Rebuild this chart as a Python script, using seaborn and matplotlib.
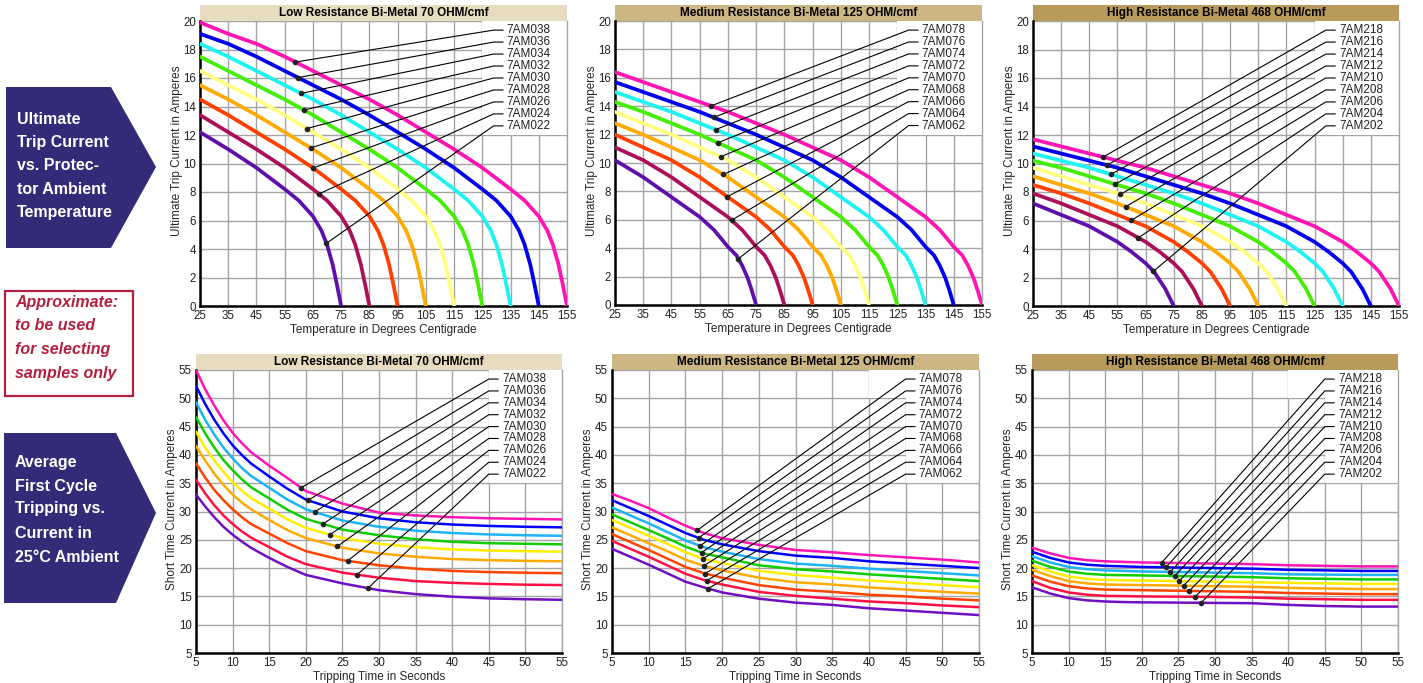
"""Thermal protector curves: ultimate trip current vs. ambient temperature
and first-cycle tripping time vs. current for three bi-metal resistances."""
import numpy as np
import pandas as pd
import seaborn as sns
import matplotlib
matplotlib.use("Agg")
import matplotlib.pyplot as plt
from matplotlib.patches import Polygon, Rectangle

sns.set_style("white")
plt.rcParams["font.family"] = ["Liberation Sans", "DejaVu Sans"]

W, H = 1423, 683

# ---------------- data (curves listed top label -> bottom label) ----------------
low_parts = ["7AM038", "7AM036", "7AM034", "7AM032", "7AM030", "7AM028", "7AM026", "7AM024", "7AM022"]
med_parts = ["7AM078", "7AM076", "7AM074", "7AM072", "7AM070", "7AM068", "7AM066", "7AM064", "7AM062"]
high_parts = ["7AM218", "7AM216", "7AM214", "7AM212", "7AM210", "7AM208", "7AM206", "7AM204", "7AM202"]

top_colors = ["#ff14b4", "#0000ee", "#1ef2f2", "#44ee00", "#ffff80",
              "#ffaa00", "#ff4000", "#ac0f5a", "#5e10aa"]
bot_colors = ["#ff14b4", "#0000ff", "#1cb4f2", "#10cc00", "#ffee00",
              "#ffaa00", "#ff4400", "#ff1044", "#7010c0"]

# ambient temperature (deg C) points read for each curve
temps = [
    [25, 35, 45, 55, 65, 75, 85, 95, 105, 115, 125, 135, 140, 145, 148, 150, 152, 153.5, 155],
    [25, 35, 45, 55, 65, 75, 85, 95, 105, 115, 125, 130, 135, 138, 140, 142, 143.5, 145],
    [25, 35, 45, 55, 65, 75, 85, 95, 105, 115, 120, 125, 128, 130, 132, 133.5, 135],
    [25, 35, 45, 55, 65, 75, 85, 95, 105, 110, 115, 118, 120, 122, 123.5, 125],
    [25, 35, 45, 55, 65, 75, 85, 95, 100, 105, 108, 110, 112, 113.5, 115],
    [25, 35, 45, 55, 65, 75, 85, 90, 95, 98, 100, 102, 103.5, 105],
    [25, 35, 45, 55, 65, 75, 80, 85, 88, 90, 92, 93.5, 95],
    [25, 35, 45, 55, 65, 70, 75, 78, 80, 82, 83.5, 85],
    [25, 35, 45, 55, 60, 65, 68, 70, 72, 73.5, 75],
]

low_trip = [
    [19.9, 19.1, 18.4, 17.5, 16.5, 15.5, 14.5, 13.4, 12.2, 11.0, 9.7, 8.2, 7.4, 6.3, 5.3, 4.3, 2.9, 1.5, 0],
    [19.1, 18.4, 17.5, 16.5, 15.5, 14.5, 13.4, 12.2, 11.0, 9.7, 8.2, 7.4, 6.3, 5.3, 4.3, 2.9, 1.5, 0],
    [18.4, 17.5, 16.5, 15.5, 14.5, 13.4, 12.2, 11.0, 9.7, 8.2, 7.4, 6.3, 5.3, 4.3, 2.9, 1.5, 0],
    [17.5, 16.5, 15.5, 14.5, 13.4, 12.2, 11.0, 9.7, 8.2, 7.4, 6.3, 5.3, 4.3, 2.9, 1.5, 0],
    [16.5, 15.5, 14.5, 13.4, 12.2, 11.0, 9.7, 8.2, 7.4, 6.3, 5.3, 4.3, 2.9, 1.5, 0],
    [15.5, 14.5, 13.4, 12.2, 11.0, 9.7, 8.2, 7.4, 6.3, 5.3, 4.3, 2.9, 1.5, 0],
    [14.5, 13.4, 12.2, 11.0, 9.7, 8.2, 7.4, 6.3, 5.3, 4.3, 2.9, 1.5, 0],
    [13.4, 12.2, 11.0, 9.7, 8.2, 7.4, 6.3, 5.3, 4.3, 2.9, 1.5, 0],
    [12.2, 11.0, 9.7, 8.2, 7.4, 6.3, 5.3, 4.3, 2.9, 1.5, 0],
]
med_trip = [
    [16.4, 15.7, 15.0, 14.3, 13.6, 12.8, 12.0, 11.1, 10.2, 9.0, 7.6, 6.2, 5.3, 4.1, 3.5, 2.8, 1.9, 1.0, 0],
    [15.7, 15.0, 14.3, 13.6, 12.8, 12.0, 11.1, 10.2, 9.0, 7.6, 6.2, 5.3, 4.1, 3.5, 2.8, 1.9, 1.0, 0],
    [15.0, 14.3, 13.6, 12.8, 12.0, 11.1, 10.2, 9.0, 7.6, 6.2, 5.3, 4.1, 3.5, 2.8, 1.9, 1.0, 0],
    [14.3, 13.6, 12.8, 12.0, 11.1, 10.2, 9.0, 7.6, 6.2, 5.3, 4.1, 3.5, 2.8, 1.9, 1.0, 0],
    [13.6, 12.8, 12.0, 11.1, 10.2, 9.0, 7.6, 6.2, 5.3, 4.1, 3.5, 2.8, 1.9, 1.0, 0],
    [12.8, 12.0, 11.1, 10.2, 9.0, 7.6, 6.2, 5.3, 4.1, 3.5, 2.8, 1.9, 1.0, 0],
    [12.0, 11.1, 10.2, 9.0, 7.6, 6.2, 5.3, 4.1, 3.5, 2.8, 1.9, 1.0, 0],
    [11.1, 10.2, 9.0, 7.6, 6.2, 5.3, 4.1, 3.5, 2.8, 1.9, 1.0, 0],
    [10.2, 9.0, 7.6, 6.2, 5.3, 4.1, 3.5, 2.8, 1.9, 1.0, 0],
]
high_trip = [
    [11.7, 11.2, 10.7, 10.2, 9.7, 9.1, 8.5, 7.9, 7.2, 6.4, 5.6, 4.5, 3.8, 3.0, 2.4, 1.8, 1.2, 0.6, 0],
    [11.2, 10.7, 10.2, 9.7, 9.1, 8.5, 7.9, 7.2, 6.4, 5.6, 4.5, 3.8, 3.0, 2.4, 1.8, 1.2, 0.6, 0],
    [10.7, 10.2, 9.7, 9.1, 8.5, 7.9, 7.2, 6.4, 5.6, 4.5, 3.8, 3.0, 2.4, 1.8, 1.2, 0.6, 0],
    [10.2, 9.7, 9.1, 8.5, 7.9, 7.2, 6.4, 5.6, 4.5, 3.8, 3.0, 2.4, 1.8, 1.2, 0.6, 0],
    [9.7, 9.1, 8.5, 7.9, 7.2, 6.4, 5.6, 4.5, 3.8, 3.0, 2.4, 1.8, 1.2, 0.6, 0],
    [9.1, 8.5, 7.9, 7.2, 6.4, 5.6, 4.5, 3.8, 3.0, 2.4, 1.8, 1.2, 0.6, 0],
    [8.5, 7.9, 7.2, 6.4, 5.6, 4.5, 3.8, 3.0, 2.4, 1.8, 1.2, 0.6, 0],
    [7.9, 7.2, 6.4, 5.6, 4.5, 3.8, 3.0, 2.4, 1.8, 1.2, 0.6, 0],
    [7.2, 6.4, 5.6, 4.5, 3.8, 3.0, 2.4, 1.8, 1.2, 0.6, 0],
]

# tripping time (s) points
low_secs = [5, 6.25, 7.5, 8.75, 10, 11.25, 12.5, 15, 17.5, 20, 25, 30, 35, 40, 45, 50, 55]
secs = [5, 7.5, 10, 12.5, 15, 17.5, 20, 25, 30, 35, 40, 45, 50, 55]

low_short = [
    [55.0, 51.6, 48.7, 46.1, 43.9, 42.1, 40.5, 38.1, 35.9, 33.6, 31.4, 29.8, 29.3, 29.0, 28.8, 28.7, 28.6],
    [52.2, 49.0, 46.2, 43.8, 41.7, 40.0, 38.5, 36.2, 34.0, 32.1, 30.0, 28.8, 28.1, 27.7, 27.45, 27.3, 27.2],
    [49.3, 46.2, 43.6, 41.3, 39.4, 37.7, 36.3, 34.2, 32.1, 30.4, 28.4, 27.3, 26.6, 26.2, 25.95, 25.8, 25.7],
    [46.7, 43.8, 41.3, 39.1, 37.3, 35.7, 34.3, 32.3, 30.3, 28.7, 26.8, 25.8, 25.1, 24.65, 24.4, 24.3, 24.2],
    [44.1, 41.3, 39.0, 37.0, 35.2, 33.7, 32.4, 30.5, 28.6, 27.1, 25.3, 24.3, 23.7, 23.3, 23.1, 22.98, 22.9],
    [41.6, 39.0, 36.7, 34.7, 33.0, 31.6, 30.4, 28.5, 26.7, 25.3, 23.6, 22.6, 22.0, 21.6, 21.4, 21.28, 21.2],
    [38.5, 36.0, 33.8, 32.0, 30.4, 29.0, 27.8, 26.1, 24.4, 23.0, 21.4, 20.5, 19.9, 19.5, 19.3, 19.18, 19.1],
    [35.6, 33.2, 31.1, 29.3, 27.8, 26.5, 25.4, 23.7, 22.0, 20.7, 19.2, 18.3, 17.7, 17.4, 17.2, 17.07, 17.0],
    [33.0, 30.9, 29.0, 27.3, 25.9, 24.7, 23.6, 21.8, 20.2, 18.8, 17.3, 16.1, 15.4, 14.95, 14.65, 14.5, 14.4],
]
med_short = [
    [33.1, 31.9, 30.6, 29.0, 27.5, 26.2, 25.3, 24.1, 23.2, 22.8, 22.3, 21.9, 21.5, 21.0],
    [32.0, 30.6, 29.2, 27.7, 26.2, 25.0, 24.2, 23.0, 22.2, 21.8, 21.2, 20.8, 20.4, 20.0],
    [30.7, 29.3, 27.9, 26.4, 24.9, 23.7, 22.9, 21.6, 20.8, 20.4, 19.9, 19.5, 19.1, 18.7],
    [29.5, 28.1, 26.7, 25.3, 23.8, 22.6, 21.9, 20.5, 19.8, 19.4, 18.9, 18.5, 18.1, 17.7],
    [28.5, 27.1, 25.7, 24.3, 22.8, 21.6, 20.9, 19.5, 18.8, 18.3, 17.8, 17.4, 17.0, 16.6],
    [27.2, 25.8, 24.4, 23.0, 21.5, 20.4, 19.6, 18.3, 17.5, 17.1, 16.6, 16.2, 15.8, 15.5],
    [26.0, 24.6, 23.2, 21.7, 20.2, 19.1, 18.3, 17.0, 16.2, 15.8, 15.3, 15.0, 14.6, 14.3],
    [24.8, 23.4, 22.0, 20.5, 19.0, 17.9, 17.1, 15.8, 15.1, 14.6, 14.1, 13.8, 13.4, 13.1],
    [23.4, 22.0, 20.6, 19.1, 17.6, 16.6, 15.7, 14.6, 13.9, 13.5, 12.9, 12.5, 12.1, 11.7],
]
high_short = [
    [23.6, 22.6, 21.8, 21.4, 21.2, 21.1, 21.0, 20.9, 20.8, 20.7, 20.5, 20.4, 20.3, 20.3],
    [22.9, 21.8, 21.0, 20.6, 20.4, 20.3, 20.2, 20.1, 20.0, 19.9, 19.7, 19.6, 19.5, 19.5],
    [22.1, 21.0, 20.2, 19.8, 19.6, 19.5, 19.4, 19.3, 19.2, 19.1, 18.9, 18.85, 18.8, 18.8],
    [21.3, 20.2, 19.4, 19.0, 18.8, 18.75, 18.7, 18.6, 18.5, 18.4, 18.2, 18.1, 18.0, 18.0],
    [20.5, 19.4, 18.5, 18.1, 17.9, 17.85, 17.8, 17.7, 17.6, 17.5, 17.4, 17.3, 17.2, 17.2],
    [19.7, 18.6, 17.7, 17.3, 17.1, 17.05, 17.0, 16.9, 16.8, 16.7, 16.5, 16.4, 16.3, 16.3],
    [18.7, 17.6, 16.8, 16.4, 16.2, 16.15, 16.1, 16.0, 15.9, 15.8, 15.6, 15.5, 15.4, 15.4],
    [17.7, 16.5, 15.7, 15.3, 15.1, 15.05, 15.0, 14.95, 14.9, 14.8, 14.6, 14.5, 14.4, 14.4],
    [16.6, 15.5, 14.7, 14.3, 14.1, 14.0, 13.95, 13.9, 13.85, 13.8, 13.5, 13.3, 13.2, 13.2],
]

# x positions of the leader-line dots on each curve
low_top_dots = [58.8, 59.7, 60.8, 61.8, 62.9, 64.2, 65.1, 67.1, 69.8]
med_top_dots = [59.0, 59.9, 60.6, 61.4, 62.4, 63.4, 64.8, 66.3, 68.7]
high_top_dots = [49.9, 51.3, 52.7, 54.2, 56.0, 57.9, 59.9, 62.4, 67.8]
low_bot_dots = [19.35, 20.3, 21.2, 22.35, 23.3, 24.3, 25.7, 27.0, 28.5]
med_bot_dots = [16.6, 16.8, 17.0, 17.2, 17.4, 17.5, 17.7, 17.9, 18.1]
high_bot_dots = [22.7, 23.3, 23.9, 24.5, 25.1, 25.7, 26.5, 27.3, 28.1]

titles = ["Low Resistance Bi-Metal 70 OHM/cmf",
          "Medium Resistance Bi-Metal 125 OHM/cmf",
          "High Resistance Bi-Metal 468 OHM/cmf"]
bar_colors = ["#e8dcc0", "#ccb684", "#b89b5c"]

GRID = "#a4a4a4"
fig = plt.figure(figsize=(W / 100, H / 100), dpi=100)


def px_rect(left, top, right, bottom):
    return [left / W, 1 - bottom / H, (right - left) / W, (bottom - top) / H]


def draw_panel(rect, parts, colors, xs_list, ys_list, dots, title, bar, top):
    ax = fig.add_axes(rect)
    rows = []
    for p, xs, ys in zip(parts, xs_list, ys_list):
        rows += [(x, y, p) for x, y in zip(xs, ys)]
    df = pd.DataFrame(rows, columns=["x", "y", "part"])
    sns.lineplot(data=df, x="x", y="y", hue="part", hue_order=parts,
                 palette=dict(zip(parts, colors)), estimator=None, sort=False,
                 legend=False, lw=2.7 if top else 1.8, ax=ax, zorder=3)

    if top:
        xlim, ylim = (25, 155), (0, 20)
        ax.set_xticks(np.arange(25, 156, 10))
        ax.set_yticks(np.arange(0, 21, 2))
        blanks = [(125, 12, 31, 9)]
        ax.set_xlabel("Temperature in Degrees Centigrade", fontsize=8.5, labelpad=1)
        ax.set_ylabel("Ultimate Trip Current in Amperes", fontsize=8.5)
        ax.yaxis.set_label_coords(-0.046, 0.544)
    else:
        xlim, ylim = (5, 55), (5, 55)
        ax.set_xticks(np.arange(5, 56, 5))
        ax.set_yticks(np.arange(5, 56, 5))
        blanks = [(45, 35, 11, 21)]
        if parts[0] != "7AM038":
            blanks.append((40, 50, 5, 6))
        ax.set_xlabel("Tripping Time in Seconds", fontsize=8.5, labelpad=1)
        ax.set_ylabel("Short Time Current in Amperes", fontsize=8.5)
        ax.yaxis.set_label_coords(-0.05, 0.509)
    ax.set_xlim(*xlim)
    ax.set_ylim(*ylim)

    ax.set_axisbelow(True)
    ax.grid(True, color=GRID, lw=1.0)
    for x0, y0, w, h in blanks:
        ax.add_patch(Rectangle((x0, y0), w, h, facecolor="white",
                               edgecolor="none", zorder=1, clip_on=True))
    ax.tick_params(length=0, labelsize=8.3, colors="#222222")
    ax.tick_params(axis="x", pad=3)
    ax.tick_params(axis="y", pad=3)
    for s in ["left", "bottom"]:
        ax.spines[s].set_color("black")
        ax.spines[s].set_linewidth(1.8)
    ax.spines["right"].set_color(GRID)
    ax.spines["right"].set_linewidth(1.0)
    ax.spines["top"].set_visible(False)

    # leader lines with part labels
    xr, yr = xlim[1] - xlim[0], ylim[1] - ylim[0]
    for i, (p, xs, ys, mx) in enumerate(zip(parts, xs_list, ys_list, dots)):
        my = np.interp(mx, xs, ys)
        ly = 0.968 - 0.042 * i
        lx0 = xlim[0] + 0.80 * xr
        lx1 = xlim[0] + 0.826 * xr
        lyd = ylim[0] + ly * yr
        ax.plot([mx, lx0, lx1], [my, lyd, lyd], color="black", lw=0.8,
                zorder=4, solid_joinstyle="miter")
        ax.plot([mx], [my], "o", color="#222222", ms=3.0, zorder=5)
        ax.text(xlim[0] + 0.836 * xr, lyd, p, fontsize=8.5, color="#222222",
                va="center", ha="left", zorder=5)

    # title bar
    hb = 16 / (rect[3] * H)
    ax.add_patch(Rectangle((0, 1), 1, hb, transform=ax.transAxes,
                           facecolor=bar, edgecolor="none", clip_on=False))
    ax.text(0.5, 1 + hb / 2, title, transform=ax.transAxes, ha="center",
            va="center", fontsize=8.5, fontweight="bold", color="black")
    return ax


top_rects = [px_rect(200, 21, 567, 306), px_rect(615, 21, 982, 305), px_rect(1033, 21, 1399, 306)]
bot_rects = [px_rect(196, 370, 562, 653), px_rect(612, 370, 979, 653), px_rect(1032, 370, 1398, 653)]

panel_parts = [low_parts, med_parts, high_parts]
top_vals = [low_trip, med_trip, high_trip]
bot_vals = [low_short, med_short, high_short]
bot_secs = [low_secs, secs, secs]
top_dots = [low_top_dots, med_top_dots, high_top_dots]
bot_dots = [low_bot_dots, med_bot_dots, high_bot_dots]

for j in range(3):
    draw_panel(top_rects[j], panel_parts[j], top_colors, temps, top_vals[j],
               top_dots[j], titles[j], bar_colors[j], True)
    draw_panel(bot_rects[j], panel_parts[j], bot_colors, [bot_secs[j]] * 9, bot_vals[j],
               bot_dots[j], titles[j], bar_colors[j], False)


# ---------------- left-hand side captions ----------------
def fig_poly(pts, **kw):
    fig.patches.append(Polygon([(x / W, 1 - y / H) for x, y in pts],
                               transform=fig.transFigure, **kw))


NAVY = "#342b78"
fig_poly([(6, 87), (111, 87), (156, 167), (111, 248), (6, 248)], facecolor=NAVY, edgecolor="none")
fig_poly([(4, 433), (116, 433), (156, 513), (116, 603), (4, 603)], facecolor=NAVY, edgecolor="none")
fig_poly([(5, 291), (133, 291), (133, 396), (5, 396)], facecolor="white",
         edgecolor="#b3203d", lw=1.6)

cap1 = ["Ultimate", "Trip Current", "vs. Protec-", "tor Ambient", "Temperature"]
cap1_y = [119, 142, 165, 189, 213]
cap2 = ["Approximate:", "to be used", "for selecting", "samples only"]
cap2_y = [303, 326, 349, 373]
cap3 = ["Average", "First Cycle", "Tripping vs.", "Current in", "25°C Ambient"]
cap3_y = [463, 486, 509, 533, 557]

for t, y in zip(cap1, cap1_y):
    fig.text(17 / W, 1 - y / H, t, color="white", fontsize=11.5, fontweight="bold",
             va="center", ha="left")
for t, y in zip(cap2, cap2_y):
    fig.text(15 / W, 1 - y / H, t, color="#b3203d", fontsize=11.5, fontweight="bold",
             fontstyle="italic", va="center", ha="left")
for t, y in zip(cap3, cap3_y):
    fig.text(15 / W, 1 - y / H, t, color="white", fontsize=11.5, fontweight="bold",
             va="center", ha="left")

fig.savefig("out.png", dpi=100)
plt.close(fig)
